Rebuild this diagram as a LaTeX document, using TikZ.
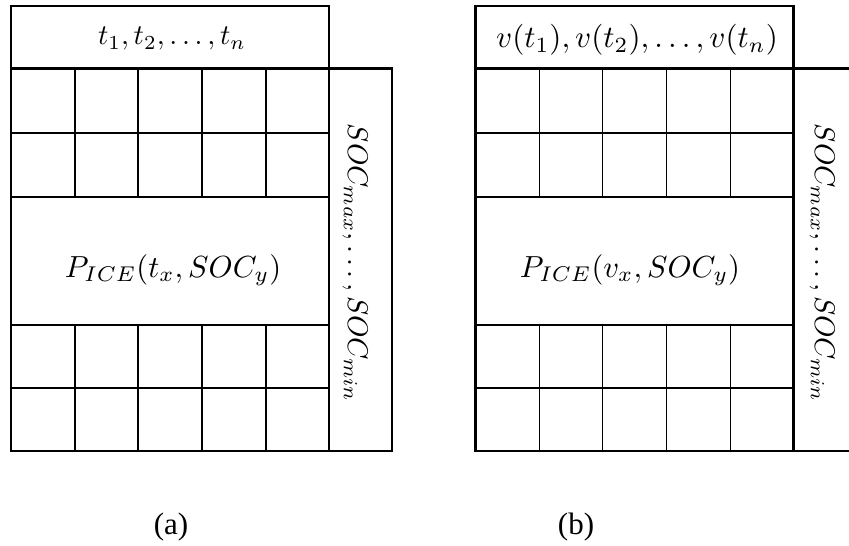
\documentclass[tikz,border=0pt]{standalone}
\usepackage{graphicx}
\usepackage{fontspec}
\newfontfamily\capfont{Liberation Serif}
\usetikzlibrary{positioning}
% math set at 10pt, then blown up
\newcommand{\bigmath}[2]{\scalebox{#1}{$#2$}}

\begin{document}
\begin{tikzpicture}[x=1pt, y=-1pt,
  thickline/.style={line width=2.3pt},
  thinline/.style={line width=1.3pt},
  mathtxt/.style={font=\normalsize, inner sep=0pt},
  soctxt/.style={mathtxt, rotate=-90},
  captxt/.style={font=\fontsize{31}{36}\capfont, inner sep=0pt}]
\useasboundingbox (0,0) rectangle (849,546);

% two tables, same grid
\foreach \sx in {0,464.5} {
  \begin{scope}[xshift=\sx]
  \draw[thickline] (11,6) rectangle (329,68.5);
  \draw[thickline] (11,68.5) rectangle (329,451);
  \draw[thickline] (329,68.5) rectangle (392,451);
  \foreach \y in {133,197,325,388} \draw[thinline] (11,\y) -- (329,\y);
  \foreach \x in {75,138,202,266} {
    \draw[thinline] (\x,68.5) -- (\x,197);
    \draw[thinline] (\x,325) -- (\x,451);
  }
  \end{scope}
}

% (a) time grid
\node[mathtxt] (ha) at (172,39) {\bigmath{2.85}{t_1, t_2, \ldots, t_n}};
\node[mathtxt] (pa) at (173,270) {\bigmath{3.05}{P_{ICE}(t_x, SOC_y)}};
\node[soctxt] (sa) at (355,263) {\bigmath{2.85}{SOC_{max}, \ldots, SOC_{min}}};
\node[captxt] (capa) at (171,527) {(a)};

% (b) speed grid
\node[mathtxt] (hb) at (637,40) {\bigmath{3.1}{v(t_1), v(t_2), \ldots, v(t_n)}};
\node[mathtxt] (pb) at (630,270) {\bigmath{3.05}{P_{ICE}(v_x, SOC_y)}};
\node[soctxt] (sb) at (822,263) {\bigmath{2.85}{SOC_{max}, \ldots, SOC_{min}}};
\node[captxt] (capb) at (576,527) {(b)};
\end{tikzpicture}
\end{document}
